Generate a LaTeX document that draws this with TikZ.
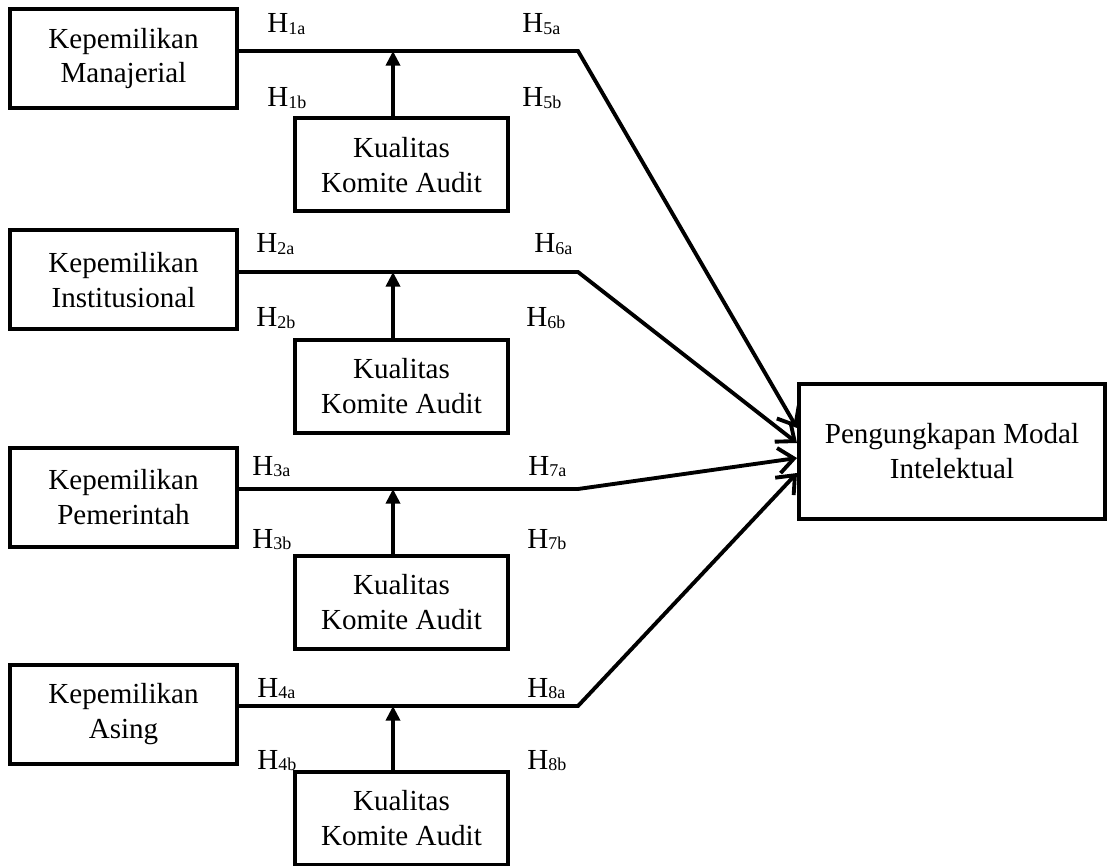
\documentclass[tikz,border=0pt]{standalone}
\usepackage{fontspec}
\setmainfont{Liberation Serif}
\usetikzlibrary{arrows.meta}
\newcommand\hlab[1]{H\raisebox{-1.3pt}{\fontsize{13.5}{14}\selectfont #1}}
\begin{document}
\begin{tikzpicture}[x=0.75pt,y=-0.75pt,
  every node/.style={font=\fontsize{21.8}{26.2}\selectfont},
  box/.style={draw, line width=3pt, align=center, inner sep=0pt},
  ownbox/.style={box, minimum width=170.25pt, minimum height=74.25pt},
  kabox/.style={box, minimum width=159.75pt, minimum height=69.75pt},
  outbox/.style={box, minimum width=229.5pt, minimum height=101.25pt},
  modarrow/.style={line width=2.9pt, -{Triangle[length=11pt,width=10.5pt]}},
  effarrow/.style={line width=2.9pt, -{Straight Barb[length=11.5pt,width=19pt]}},
  hl/.style={anchor=base west, inner sep=0pt}]
\useasboundingbox (0,0) rectangle (1107,866);

% left boxes
\node[ownbox] (m1) at (123.5,58.5) {Kepemilikan\\Manajerial};
\node[ownbox] (m2) at (123.5,280) {Kepemilikan\\Institusional};
\node[ownbox] (m3) at (123.5,497) {Kepemilikan\\Pemerintah};
\node[ownbox] (m4) at (123.5,714.5) {Kepemilikan\\Asing};

% moderator boxes
\node[kabox] (k1) at (401.5,165) {Kualitas\\Komite Audit};
\node[kabox] (k2) at (401.5,386.5) {Kualitas\\Komite Audit};
\node[kabox] (k3) at (401.5,602) {Kualitas\\Komite Audit};
\node[kabox] (k4) at (401.5,818) {Kualitas\\Komite Audit};

% target
\node[outbox] (t) at (952,451.5) {Pengungkapan Modal\\Intelektual};

% corners and junctions
\coordinate (c1) at (578,51);
\coordinate (c2) at (578,272);
\coordinate (c3) at (578,489);
\coordinate (c4) at (578,706);
\coordinate (j1) at (393,51);
\coordinate (j2) at (393,272);
\coordinate (j3) at (393,489);
\coordinate (j4) at (393,706);
\coordinate (e1) at (797,428);
\coordinate (e2) at (797,443);
\coordinate (e3) at (797,458);
\coordinate (e4) at (797,473);

% main paths
\draw[effarrow] (m1.east |- c1) -- (c1) -- (t.west |- e1);
\draw[effarrow] (m2.east |- c2) -- (c2) -- (t.west |- e2);
\draw[effarrow] (m3.east |- c3) -- (c3) -- (t.west |- e3);
\draw[effarrow] (m4.east |- c4) -- (c4) -- (t.west |- e4);

% moderation arrows
\draw[modarrow] (k1.north -| j1) -- (j1);
\draw[modarrow] (k2.north -| j2) -- (j2);
\draw[modarrow] (k3.north -| j3) -- (j3);
\draw[modarrow] (k4.north -| j4) -- (j4);

% labels
\node[hl] (h1a) at (267,33) {\hlab{1a}};
\node[hl] (h1b) at (267,107) {\hlab{1b}};
\node[hl] (h2a) at (256,253) {\hlab{2a}};
\node[hl] (h2b) at (256,327) {\hlab{2b}};
\node[hl] (h3a) at (252,475) {\hlab{3a}};
\node[hl] (h3b) at (252,548) {\hlab{3b}};
\node[hl] (h4a) at (257,697) {\hlab{4a}};
\node[hl] (h4b) at (257,769) {\hlab{4b}};
\node[hl] (h5a) at (522,33) {\hlab{5a}};
\node[hl] (h5b) at (522,107) {\hlab{5b}};
\node[hl] (h6a) at (534,253) {\hlab{6a}};
\node[hl] (h6b) at (526,327) {\hlab{6b}};
\node[hl] (h7a) at (528,475) {\hlab{7a}};
\node[hl] (h7b) at (527,548) {\hlab{7b}};
\node[hl] (h8a) at (527,697) {\hlab{8a}};
\node[hl] (h8b) at (527,769) {\hlab{8b}};
\end{tikzpicture}
\end{document}
